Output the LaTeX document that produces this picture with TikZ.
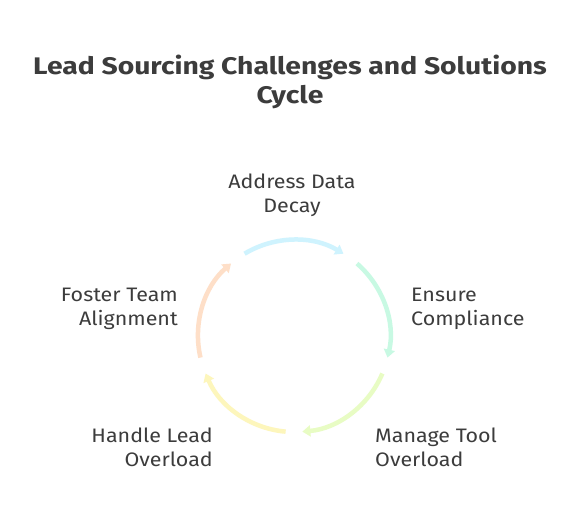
\documentclass[tikz,border=0pt]{standalone}
\usepackage{fontspec}
\setmainfont{Fira Sans}
\newfontfamily\lblfont[FakeStretch=1.1]{Fira Sans}
\newfontfamily\ttlfont[FakeStretch=1.18]{Fira Sans}
\usetikzlibrary{arrows.meta}
\definecolor{txt}{HTML}{3C3C3C}
\definecolor{cA}{HTML}{CFF3FE}
\definecolor{cB}{HTML}{C8F9E3}
\definecolor{cC}{HTML}{E8FCC4}
\definecolor{cD}{HTML}{FDF6BC}
\definecolor{cE}{HTML}{FEDFC8}
\tikzset{
  lbl/.style={text=txt, font=\lblfont\fontsize{19.5}{24}\selectfont, inner sep=0pt},
  ttl/.style={text=txt, font=\ttlfont\fontsize{24}{29}\selectfont\bfseries, align=center, inner sep=0pt},
  arcline/.style={line width=4.5pt, -{Triangle[length=8pt,width=11pt]}},
}
\begin{document}
\begin{tikzpicture}[x=1pt,y=1pt]
\useasboundingbox (0,0) rectangle (588,516);
\fill[white] (0,0) rectangle (588,516);
\node[ttl] (title) at (290,434) {Lead Sourcing Challenges and Solutions\\Cycle};
\coordinate (C) at (294,180);
\foreach \c/\col in {90/cA,18/cB,-54/cC,-126/cD,162/cE}{
  \draw[arcline,\col] ([shift={(\c+31:96)}]C) arc[start angle=\c+31, end angle=\c-31, radius=96];
}
\node[lbl, align=center, anchor=center] (a) at (292,321) {Address Data\\Decay};
\node[lbl, align=left, anchor=west] (b) at (411,207) {Ensure\\Compliance};
\node[lbl, align=left, anchor=west] (c) at (375,69) {Manage Tool\\Overload};
\node[lbl, align=right, anchor=east] (d) at (213,69) {Handle Lead\\Overload};
\node[lbl, align=right, anchor=east] (e) at (178,207) {Foster Team\\Alignment};
\end{tikzpicture}
\end{document}
